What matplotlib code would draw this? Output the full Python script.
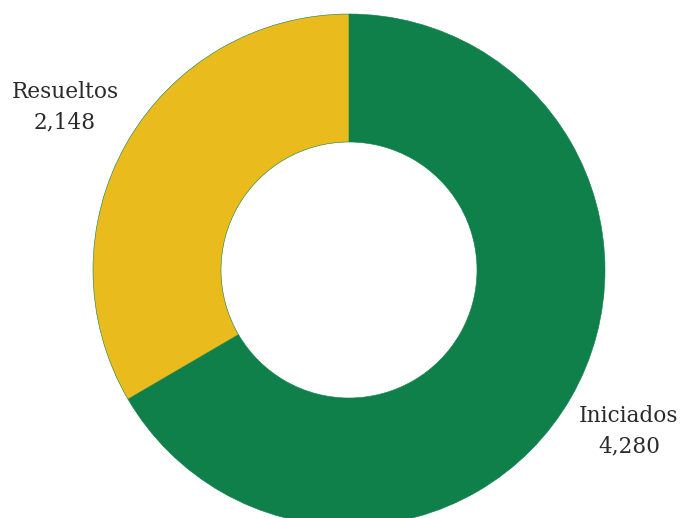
import matplotlib.pyplot as plt

labels = ['Iniciados', 'Resueltos']
values = [4280, 2148]
colors = ['#10804b', '#e9bb1c']

fig = plt.figure(figsize=(6.84, 5.18), dpi=100)
ax = fig.add_axes([0, 0, 1, 1])

# donut starting at 12 o'clock, going clockwise
wedges, _ = ax.pie(values, colors=colors, startangle=90, counterclock=False,
                   radius=256, center=(349, 248),
                   wedgeprops=dict(width=128, edgecolor='#10804b', linewidth=0.4))

ax.set_xlim(0, 684)
ax.set_ylim(0, 518)
ax.set_aspect('equal')
ax.axis('off')

font = dict(family='DejaVu Serif', size=15.6, color='#2a2a2a',
            ha='center', va='baseline')
ax.text(65.5, 518 - 98, labels[1], **font)
ax.text(65, 518 - 128, f'{values[1]:,}', **font)
ax.text(629, 518 - 422, labels[0], **font)
ax.text(629, 518 - 452, f'{values[0]:,}', **font)

fig.savefig('out.png', dpi=100)
